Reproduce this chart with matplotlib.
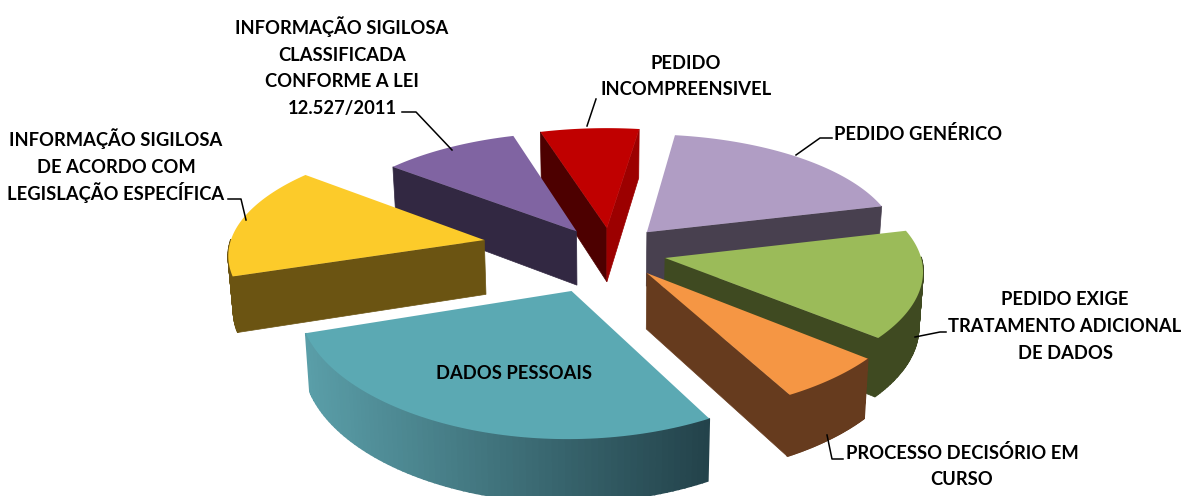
import numpy as np
import matplotlib
matplotlib.use('Agg')
import matplotlib.pyplot as plt
from matplotlib.colors import to_rgb

# chart data, clockwise starting from the pedido generico slice
labels = ['PEDIDO GENÉRICO', 'PEDIDO EXIGE\nTRATAMENTO ADICIONAL\nDE DADOS',
          'PROCESSO DECISÓRIO EM\nCURSO', 'DADOS PESSOAIS',
          'INFORMAÇÃO SIGILOSA\nDE ACORDO COM\nLEGISLAÇÃO ESPECÍFICA',
          'INFORMAÇÃO SIGILOSA\nCLASSIFICADA\nCONFORME A LEI\n12.527/2011',
          'PEDIDO\nINCOMPREENSIVEL']
values = [18.8, 15.1, 6.0, 27.7, 16.0, 9.6, 6.8]

# styles
top_colors = ['#B09DC4', '#9BBB59', '#F59644', '#5BA9B3', '#FCCB2A', '#8064A2', '#C00000']
side_left = ['#48404F', '#3F4A21', '#663B1E', '#5A9EA8', '#6B5412', '#322842', '#4D0000']
side_right = ['#48404F', '#3F4A21', '#663B1E', '#23424A', '#6B5412', '#322842', '#9C0000']
explode = [0.26, 0.23, 0.22, 0.324, 0.485, 0.238, 0.24]
explode_turn = [-3, -6.4, -6.5, 1, 5.6, 6, 6]
radius = [0.97, 0.975, 1, 1, 0.98, 0.985, 1]
start_angle = 8.0

# projection of the pie plane on the image, in pixels
cx, cy = 605, 255
rx, ry = 262, 115
persp = 0.1
persp_front = 0.145
depth = 55
converge = 0.014


def project(x, y):
    w = 1 + persp * y
    wy = np.where(y < 0, 1 + persp_front * y, w)
    return cx + rx * x / w, cy - ry * y / wy, depth / w


fig = plt.figure(figsize=(11.84, 4.96), dpi=100)
ax = fig.add_axes([0, 0, 1, 1])
ax.set_xlim(0, 1184)
ax.set_ylim(496, 0)
ax.axis('off')

edges = np.concatenate([[0], np.cumsum(values)]) / np.sum(values) * 360 + start_angle
solids = []
for i in range(len(values)):
    a0, a1 = np.radians(edges[i]), np.radians(edges[i + 1])
    mid = (a0 + a1) / 2 + np.radians(explode_turn[i])
    ox, oy = explode[i] * np.sin(mid), explode[i] * np.cos(mid)
    t = np.linspace(a0, a1, 80)
    px = np.concatenate([[ox], ox + radius[i] * np.sin(t)])
    py = np.concatenate([[oy], oy + radius[i] * np.cos(t)])
    sx, sy, d = project(px, py)
    solids.append((oy, i, sx, sy, d, t, a0, a1))

# back slices first
solids.sort(key=lambda s: -s[0])
for oy, i, sx, sy, d, t, a0, a1 in solids:
    lo, hi = np.array(to_rgb(side_left[i])), np.array(to_rgb(side_right[i]))
    xmin, xmax = sx.min(), sx.max()
    n = len(sx)
    bx = sx + (cx - sx) * converge  # verticals lean a little to the middle
    by = sy + d
    # cut faces, only the ones turned to the viewer
    if np.sin(a0) < 0:
        ax.fill([sx[0], sx[1], bx[1], bx[0]], [sy[0], sy[1], by[1], by[0]], color=tuple(lo), lw=0.5)
    if np.sin(a1) > 0:
        ax.fill([sx[0], sx[-1], bx[-1], bx[0]], [sy[0], sy[-1], by[-1], by[0]], color=tuple(hi), lw=0.5)
    # rim of the slice
    for j in range(1, n - 1):
        if np.cos(t[j - 1]) > 0 and np.cos(t[j]) > 0:
            continue
        k = j + 1
        f = ((sx[j] + sx[k]) / 2 - xmin) / (xmax - xmin)
        col = tuple(lo + (hi - lo) * f)
        ax.fill([sx[j], sx[k], bx[k], bx[j]], [sy[j], sy[k], by[k], by[j]],
                facecolor=col, edgecolor=col, lw=1.2)
    ax.fill(sx, sy, color=top_colors[i], lw=0)

# label positions and leader lines are layout, in pixels
text_style = dict(fontfamily='Lato', fontweight='bold', fontsize=13.2, color='black',
                  ha='center', va='baseline')
line_step = 26.6
label_pos = [(918, 133), (1065, 325), (962, 465), (514, 372), (116, 166), (342, 67), (686, 75)]
for lab, (x, y) in zip(labels, label_pos):
    rows = lab.split('\n')
    for r, row in enumerate(rows):
        ax.text(x, y + 7 + (r - (len(rows) - 1) / 2) * line_step, row, **text_style)

leaders = [[(796, 155), (820, 138), (832, 138)],
           [(915, 337), (940, 332), (946, 332)],
           [(827, 435), (832, 459), (843, 459)],
           [(246, 220), (241, 199), (228, 199)],
           [(452, 150), (416, 112), (402, 112)],
           [(587, 126), (596, 99)]]
for pts in leaders:
    ax.plot([p[0] for p in pts], [p[1] for p in pts], color='black', lw=1.1)

fig.savefig('out.png', dpi=100)
